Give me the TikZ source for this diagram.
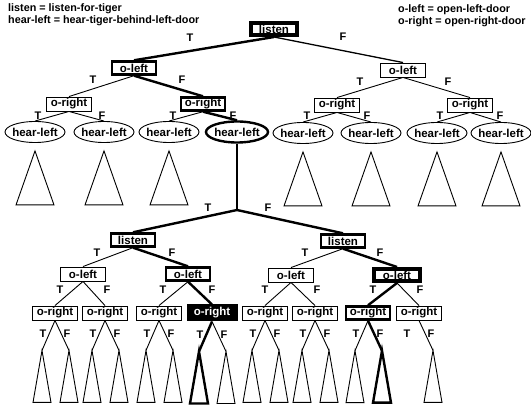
\documentclass[tikz,border=0pt]{standalone}
\usepackage{fontspec}
\setmainfont{Liberation Sans}
\usetikzlibrary{shapes.geometric,calc}
\begin{document}
\begin{tikzpicture}[x=1pt,y=-1pt,
  txt/.style={font=\bfseries\fontsize{11.5}{13}\selectfont},
  lbl/.style={font=\bfseries\fontsize{11}{13}\selectfont, inner sep=0pt},
  leg/.style={font=\bfseries\fontsize{10.8}{13}\selectfont, inner sep=0pt, anchor=west},
  box/.style={draw, txt, line width=0.9pt, minimum width=45pt, minimum height=14pt, inner xsep=1.5pt, inner ysep=1pt},
  boxthick/.style={box, line width=2.4pt, minimum width=44pt, minimum height=13pt},
  boxheavy/.style={box, line width=4pt, minimum width=46pt, minimum height=12pt},
  boxblack/.style={box, line width=3pt, fill=black, text=white, minimum width=48pt},
  ell/.style={draw, ellipse, txt, line width=0.9pt, minimum width=60pt, minimum height=21pt, inner xsep=-5pt, inner ysep=0pt},
  ellthick/.style={ell, line width=2.4pt, minimum width=62pt},
  thinline/.style={line width=0.9pt},
  medline/.style={line width=1.3pt},
  heavyline/.style={line width=2.4pt}
]
\useasboundingbox (0,0) rectangle (531,406);

% legends
\node[leg] (lg1) at (8,9) {listen = listen-for-tiger};
\node[leg] (lg2) at (8,21) {hear-left = hear-tiger-behind-left-door};
\node[leg] (lg3) at (398,10) {o-left = open-left-door};
\node[leg] (lg4) at (398,22) {o-right = open-right-door};

% top tree
\node[boxheavy] (root) at (274,29) {listen};
\node[boxthick] (ol1) at (134,68) {o-left};
\node[box] (ol2) at (403,70) {o-left};
\node[box] (or1) at (69,104) {o-right};
\node[boxthick] (or2) at (203,104) {o-right};
\node[box] (or3) at (337,105) {o-right};
\node[box] (or4) at (470,105) {o-right};
\node[ell] (e1) at (35,132) {hear-left};
\node[ell] (e2) at (104,132) {hear-left};
\node[ell] (e3) at (169,132) {hear-left};
\node[ellthick] (e4) at (237,132) {hear-left};
\node[ell] (e5) at (303,133) {hear-left};
\node[ell] (e6) at (371,133) {hear-left};
\node[ell] (e7) at (437,133) {hear-left};
\node[ell] (e8) at (501,133) {hear-left};

\draw[heavyline] (root.south) -- (ol1.north);
\draw[medline] (root.south) -- (ol2.north);
\draw[thinline] (ol1.south) -- (or1.north);
\draw[heavyline] (ol1.south) -- (or2.north);
\draw[thinline] (ol2.south) -- (or3.north);
\draw[thinline] (ol2.south) -- (or4.north);
\draw[thinline] (or1.south) -- (e1.north);
\draw[thinline] (or1.south) -- (e2.north);
\draw[thinline] (or2.south) -- (e3.north);
\draw[heavyline] (or2.south) -- (e4.north);
\draw[thinline] (or3.south) -- (e5.north);
\draw[thinline] (or3.south) -- (e6.north);
\draw[thinline] (or4.south) -- (e7.north);
\draw[thinline] (or4.south) -- (e8.north);

\node[lbl] at (190,38) {T};
\node[lbl] at (343,37) {F};
\node[lbl] at (93,80) {T};
\node[lbl] at (182,80) {F};
\node[lbl] at (360,82) {T};
\node[lbl] at (448,82) {F};
\node[lbl] at (38,116) {T};
\node[lbl] at (102,116) {F};
\node[lbl] at (173,116) {T};
\node[lbl] at (233,116) {F};
\node[lbl] at (307,116) {T};
\node[lbl] at (367,116) {F};
\node[lbl] at (440,116) {T};
\node[lbl] at (500,116) {F};

\foreach \n in {e1,e2,e3,e5,e6,e7,e8}
  \draw[thinline, line join=miter] ($(\n.south)+(0,8)$) -- ++(-19,54) -- ++(38,0) -- cycle;

% lower tree
\coordinate (j) at (237,210);
\draw[heavyline] (e4.south) -- (j);
\node[boxthick] (l1) at (133,240) {listen};
\node[boxthick] (l2) at (343,241) {listen};
\draw[heavyline] (j) -- (l1.north);
\draw[heavyline] (j) -- (l2.north);
\node[lbl] at (208,208) {T};
\node[lbl] at (268,208) {F};

\node[box] (p1) at (83,274) {o-left};
\node[boxthick] (p2) at (188,274) {o-left};
\node[box] (p3) at (291,275) {o-left};
\node[boxheavy] (p4) at (397,275) {o-left};
\draw[thinline] (l1.south) -- (p1.north);
\draw[heavyline] (l1.south) -- (p2.north);
\draw[thinline] (l2.south) -- (p3.north);
\draw[heavyline] (l2.south) -- (p4.north);
\node[lbl] at (97,253) {T};
\node[lbl] at (172,253) {F};
\node[lbl] at (305,253) {T};
\node[lbl] at (380,253) {F};

\node[box] (q1) at (55,313) {o-right};
\node[box] (q2) at (105,313) {o-right};
\node[box] (q3) at (159,313) {o-right};
\node[boxblack] (q4) at (212,313) {o-right};
\node[box] (q5) at (265,313) {o-right};
\node[box] (q6) at (315,313) {o-right};
\node[boxthick] (q7) at (368,313) {o-right};
\node[box] (q8) at (419,313) {o-right};
\draw[thinline] (p1.south) -- (q1.north);
\draw[thinline] (p1.south) -- (q2.north);
\draw[thinline] (p2.south) -- (q3.north);
\draw[heavyline] (p2.south) -- (q4.north);
\draw[thinline] (p3.south) -- (q5.north);
\draw[thinline] (p3.south) -- (q6.north);
\draw[heavyline] (p4.south) -- (q7.north);
\draw[thinline] (p4.south) -- (q8.north);
\node[lbl] at (60,290) {T};
\node[lbl] at (107,290) {F};
\node[lbl] at (163,290) {T};
\node[lbl] at (212,290) {F};
\node[lbl] at (265,290) {T};
\node[lbl] at (317,290) {F};
\node[lbl] at (373,290) {T};
\node[lbl] at (420,290) {F};

\foreach \q in {q1,q2,q3,q4,q5,q6,q7,q8} {
  \node[lbl] at ($(\q.south)+(-12,13)$) {T};
  \node[lbl] at ($(\q.south)+(12,13)$) {F};
  \coordinate (\q t) at ($(\q.south)+(-13,30)$);
  \coordinate (\q f) at ($(\q.south)+(14,30)$);
}
\foreach \q in {q1,q2,q3,q5,q6,q7} {
  \draw[thinline] (\q.south) -- (\q t);
  \draw[thinline, line join=miter] (\q t) -- ++(-9,52) -- ++(18,0) -- cycle;
}
\foreach \q in {q1,q2,q3,q4,q5,q6,q8} {
  \draw[thinline] (\q.south) -- (\q f);
  \draw[thinline, line join=miter] (\q f) -- ++(-9,52) -- ++(18,0) -- cycle;
}
\draw[heavyline] (q4.south) -- (q4t);
\draw[heavyline, line join=miter] (q4t) -- ++(-9,52) -- ++(18,0) -- cycle;
\draw[heavyline] (q7.south) -- (q7f);
\draw[heavyline, line join=miter] (q7f) -- ++(-9,52) -- ++(18,0) -- cycle;
\end{tikzpicture}
\end{document}
